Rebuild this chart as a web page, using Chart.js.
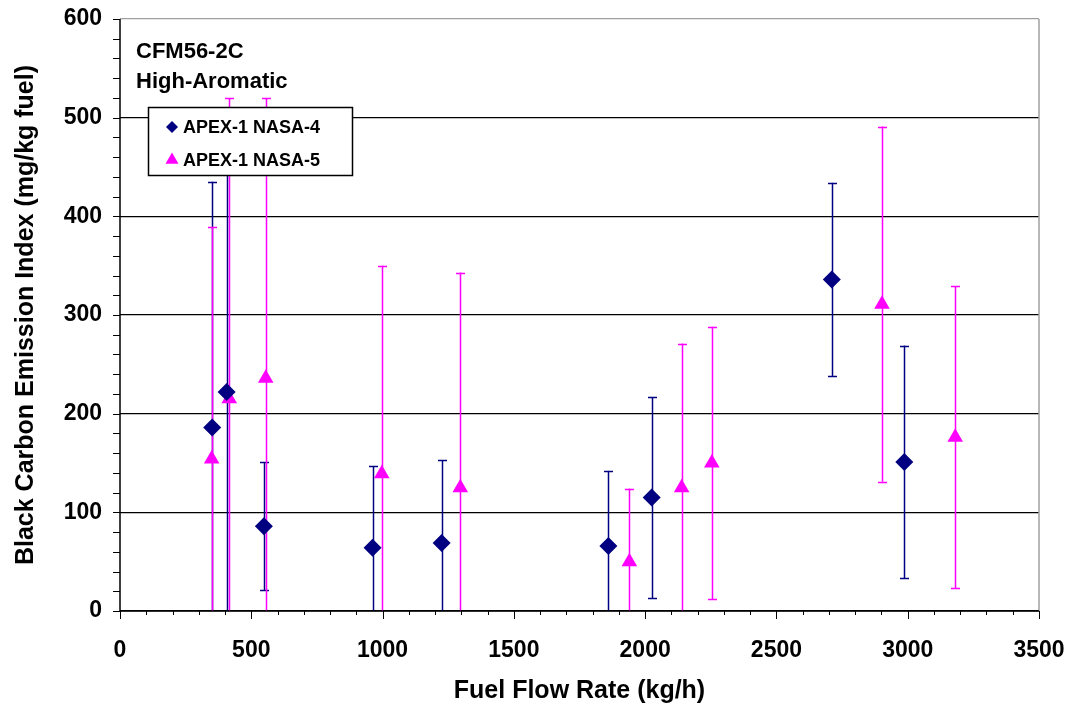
<!DOCTYPE html>
<html>
<head>
<meta charset="utf-8">
<script src="https://cdn.jsdelivr.net/npm/chart.js@4/dist/chart.umd.min.js"></script>
<style>
  html, body { margin: 0; background: #fff; }
  canvas { display: block; }
</style>
</head>
<body>
<canvas id="bcChart" width="1073" height="707"></canvas>
<script>
const fontFamily = '"Liberation Sans", Arial, Helvetica, sans-serif';
const navy = '#000080';
const magenta = '#ff00ff';

// APEX-1 NASA-4 (fuel flow kg/h, EI mg/kg, +/- error)
const nasa4Flow = [351, 406, 548, 962, 1225, 1860, 2025, 2711, 2987];
const nasa4EI   = [186, 222, 86, 64, 69, 66, 115, 336, 151];
const nasa4Err  = [249, 258, 65, 83, 84, 76, 102, 98, 118];

// APEX-1 NASA-5
const nasa5Flow = [349, 416, 555, 997, 1296, 1940, 2139, 2254, 2902, 3181];
const nasa5EI   = [154, 215, 236, 139, 125, 50, 125, 150, 311, 176];
const nasa5Err  = [235, 305, 284, 211, 218, 74, 146, 138, 180, 153];

const seriesLabels = ['APEX-1 NASA-4', 'APEX-1 NASA-5'];
const noteLines = ['CFM56-2C', 'High-Aromatic'];
const xTitle = 'Fuel Flow Rate (kg/h)';
const yTitle = 'Black Carbon Emission Index (mg/kg fuel)';
const xMin = 0, xMax = 3500, xStep = 500, xMinor = 100;
const yMin = 0, yMax = 600, yStep = 100, yMinor = 20;

function toPoints(xs, ys) {
    return xs.map((x, i) => ({ x, y: ys[i] }));
}

// vertical error bars with caps, clipped to the plot area
const errorBarPlugin = {
    id: 'errorBars',
    beforeDatasetsDraw(chart) {
        const { ctx, chartArea: a, scales: { x, y } } = chart;
        ctx.save();
        ctx.beginPath();
        ctx.rect(a.left, a.top, a.width, a.height);
        ctx.clip();
        chart.data.datasets.forEach(ds => {
            ctx.strokeStyle = ds.borderColor;
            ctx.lineWidth = 1.5;
            ds.data.forEach((p, i) => {
                const e = ds.errors[i];
                const px = Math.round(x.getPixelForValue(p.x)) + 0.5;
                const hi = y.getPixelForValue(p.y + e);
                const lo = y.getPixelForValue(p.y - e);
                ctx.beginPath();
                ctx.moveTo(px, hi);
                ctx.lineTo(px, lo);
                ctx.stroke();
                [hi, lo].forEach(py => {
                    if (py < a.top || py > a.bottom - 1) return;
                    ctx.beginPath();
                    ctx.moveTo(px - 4.5, Math.round(py) + 0.5);
                    ctx.lineTo(px + 4.5, Math.round(py) + 0.5);
                    ctx.stroke();
                });
            });
        });
        ctx.restore();
    }
};

// frame, minor ticks and the note text
const framePlugin = {
    id: 'frame',
    afterDraw(chart) {
        const { ctx, chartArea: a, scales: { x, y } } = chart;
        ctx.save();
        ctx.strokeStyle = '#a0a0a0';
        ctx.lineWidth = 1.5;
        ctx.beginPath();
        ctx.moveTo(a.right, a.top);
        ctx.lineTo(a.right, a.bottom);
        ctx.stroke();

        ctx.strokeStyle = '#000';
        ctx.lineWidth = 1.5;
        ctx.beginPath();
        ctx.moveTo(a.left, a.top);
        ctx.lineTo(a.left, a.bottom);
        ctx.lineTo(a.right, a.bottom);
        ctx.stroke();

        ctx.lineWidth = 1;
        ctx.beginPath();
        for (let v = yMin; v <= yMax; v += yMinor) {
            const py = Math.round(y.getPixelForValue(v)) + 0.5;
            ctx.moveTo(a.left - 7, py);
            ctx.lineTo(a.left, py);
        }
        for (let v = xMin; v <= xMax; v += xMinor) {
            const px = Math.round(x.getPixelForValue(v)) + 0.5;
            ctx.moveTo(px, a.bottom);
            ctx.lineTo(px, a.bottom + (v % xStep === 0 ? 8 : 4));
        }
        ctx.stroke();

        ctx.fillStyle = '#000';
        ctx.font = 'bold 22px ' + fontFamily;
        ctx.textAlign = 'left';
        ctx.textBaseline = 'alphabetic';
        noteLines.forEach((t, i) => ctx.fillText(t, a.left + 16, a.top + 39 + i * 30));
        ctx.restore();
    }
};

function drawMarker(ctx, style, cx, cy, r) {
    ctx.beginPath();
    if (style === 'rectRot') {
        ctx.moveTo(cx - r, cy);
        ctx.lineTo(cx, cy - r);
        ctx.lineTo(cx + r, cy);
        ctx.lineTo(cx, cy + r);
    } else {
        ctx.moveTo(cx, cy - r);
        ctx.lineTo(cx + r * 0.866, cy + r / 2);
        ctx.lineTo(cx - r * 0.866, cy + r / 2);
    }
    ctx.closePath();
    ctx.fill();
}

// boxed legend sitting inside the plot
const boxLegendPlugin = {
    id: 'boxLegend',
    afterDraw(chart) {
        const { ctx, chartArea: a } = chart;
        const left = a.left + 28, top = a.top + 88, w = 204, h = 68;
        ctx.save();
        ctx.fillStyle = '#fff';
        ctx.fillRect(left, top, w, h);
        ctx.strokeStyle = '#000';
        ctx.lineWidth = 1.5;
        ctx.strokeRect(left + 0.5, top + 0.5, w, h);
        ctx.font = 'bold 18px ' + fontFamily;
        ctx.textBaseline = 'middle';
        ctx.textAlign = 'left';
        chart.data.datasets.forEach((ds, i) => {
            const cy = top + 20 + i * 33;
            ctx.fillStyle = ds.backgroundColor;
            drawMarker(ctx, ds.pointStyle, left + 24, cy, ds.pointStyle === 'rectRot' ? 6 : 7.5);
            ctx.fillStyle = '#000';
            ctx.fillText(ds.label, left + 35, cy + 1);
        });
        ctx.restore();
    }
};

const tickFont = { family: fontFamily, size: 23, weight: 'bold' };
const titleFont = { family: fontFamily, size: 25, weight: 'bold', lineHeight: 1 };

new Chart(document.getElementById('bcChart'), {
    type: 'scatter',
    data: {
        datasets: [
            {
                label: seriesLabels[0],
                data: toPoints(nasa4Flow, nasa4EI),
                errors: nasa4Err,
                pointStyle: 'rectRot',
                pointRadius: 9,
                pointBorderWidth: 0,
                backgroundColor: navy,
                borderColor: navy
            },
            {
                label: seriesLabels[1],
                data: toPoints(nasa5Flow, nasa5EI),
                errors: nasa5Err,
                pointStyle: 'triangle',
                pointRadius: 9,
                pointBorderWidth: 0,
                backgroundColor: magenta,
                borderColor: magenta
            }
        ]
    },
    options: {
        responsive: false,
        animation: false,
        events: [],
        layout: { padding: { top: 19, right: 34, left: 0, bottom: 0 } },
        plugins: { legend: { display: false }, tooltip: { enabled: false } },
        scales: {
            x: {
                type: 'linear', min: xMin, max: xMax,
                ticks: { stepSize: xStep, autoSkip: false, maxRotation: 0, padding: 26, color: '#000', font: tickFont, callback: v => String(v) },
                grid: { display: false, drawTicks: false },
                border: { display: false },
                title: { display: true, text: xTitle, color: '#000', font: titleFont, padding: { top: 0, bottom: 3.5 } },
                afterFit(s) { s.height = 96; s.paddingLeft = 0; s.paddingRight = 0; }
            },
            y: {
                min: yMin, max: yMax,
                ticks: { stepSize: yStep, padding: 18, color: '#000', font: tickFont, callback: v => String(v) },
                grid: { color: c => c.tick && c.tick.value === yMax ? '#a0a0a0' : '#000', lineWidth: 1.2, drawTicks: false },
                border: { display: false },
                title: { display: true, text: yTitle, color: '#000', font: titleFont, padding: { top: 13.5, bottom: 0 } },
                afterFit(s) { s.width = 120; s.paddingTop = 0; s.paddingBottom = 0; }
            }
        }
    },
    plugins: [errorBarPlugin, framePlugin, boxLegendPlugin]
});
</script>
</body>
</html>
